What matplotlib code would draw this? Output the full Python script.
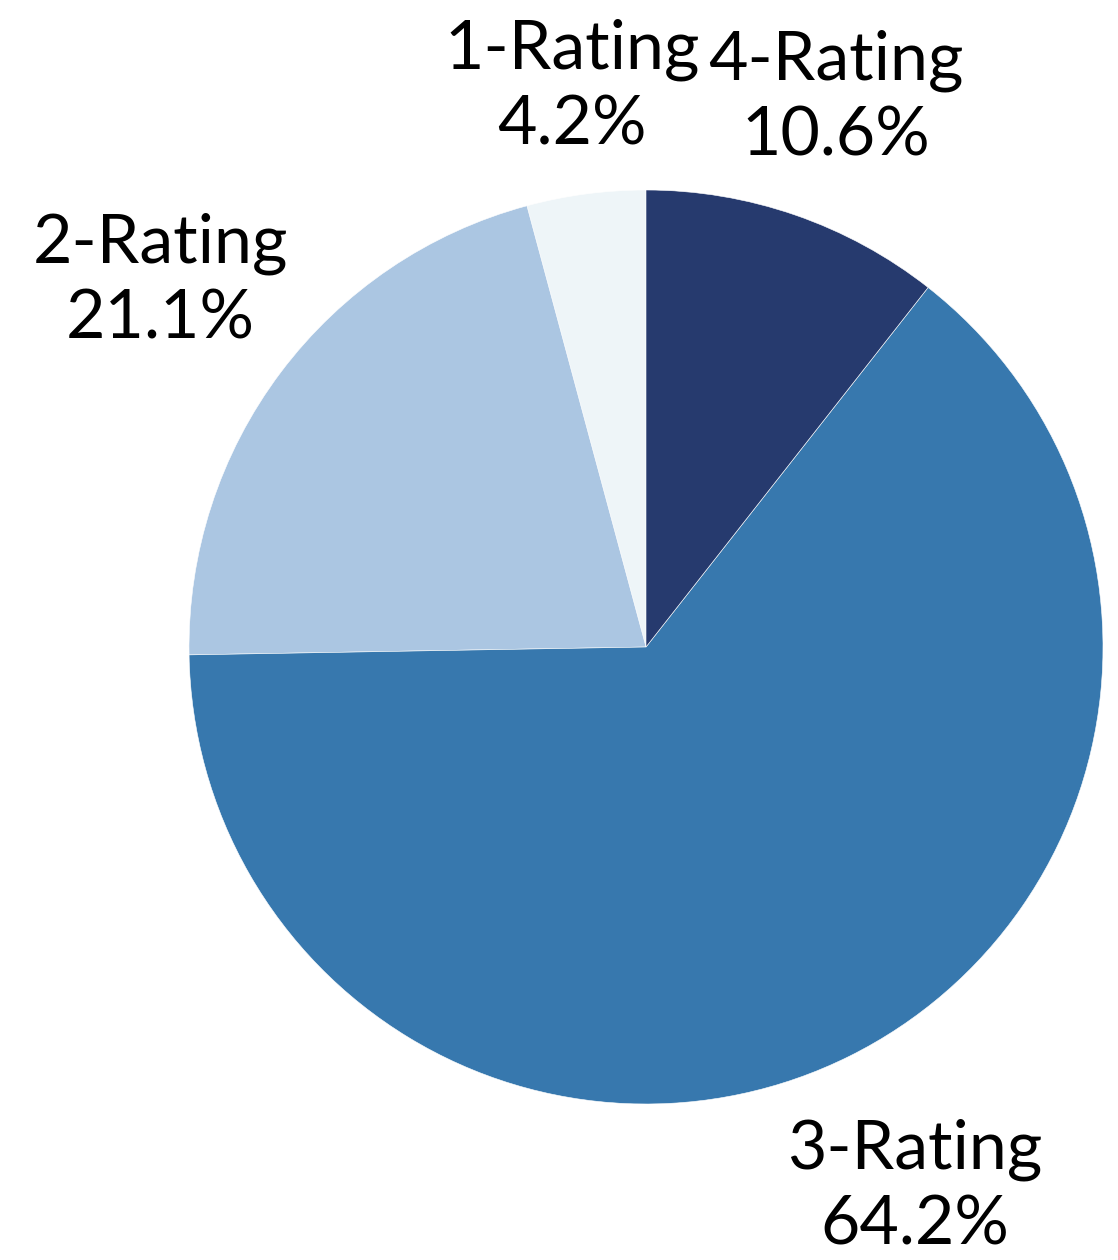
import numpy as np
import matplotlib.pyplot as plt

plt.rcParams['font.family'] = ['Lato', 'DejaVu Sans']

# data (counterclockwise from 12 o'clock)
labels = ["1-Rating", "2-Rating", "3-Rating", "4-Rating"]
shares = [4.2, 21.1, 64.2, 10.6]
colors = ["#eef5f8", "#abc6e2", "#3778ae", "#263a6e"]
label_dist = [1.235, 1.33, 1.32, 1.27]

fig = plt.figure(figsize=(11.18, 12.6), dpi=100)
# pie centre ~ (646, 647) px, radius ~ 457 px
ax = fig.add_axes([(646 - 457) / 1118, (1260 - 647 - 457) / 1260, 914 / 1118, 914 / 1260])

wedges, _ = ax.pie(shares, colors=colors, startangle=90, counterclock=True,
                   radius=1, wedgeprops=dict(edgecolor="white", linewidth=0.4))

for w, lab, val, d in zip(wedges, labels, shares, label_dist):
    ang = np.deg2rad((w.theta1 + w.theta2) / 2)
    ax.text(d * np.cos(ang), d * np.sin(ang), f"{lab}\n{val:.1f}%",
            ha="center", va="center", fontsize=49, linespacing=1.27,
            color="black")

ax.set_xlim(-1, 1)
ax.set_ylim(-1, 1)
ax.set_aspect("equal")
ax.axis("off")

plt.savefig("out.png", dpi=100)
